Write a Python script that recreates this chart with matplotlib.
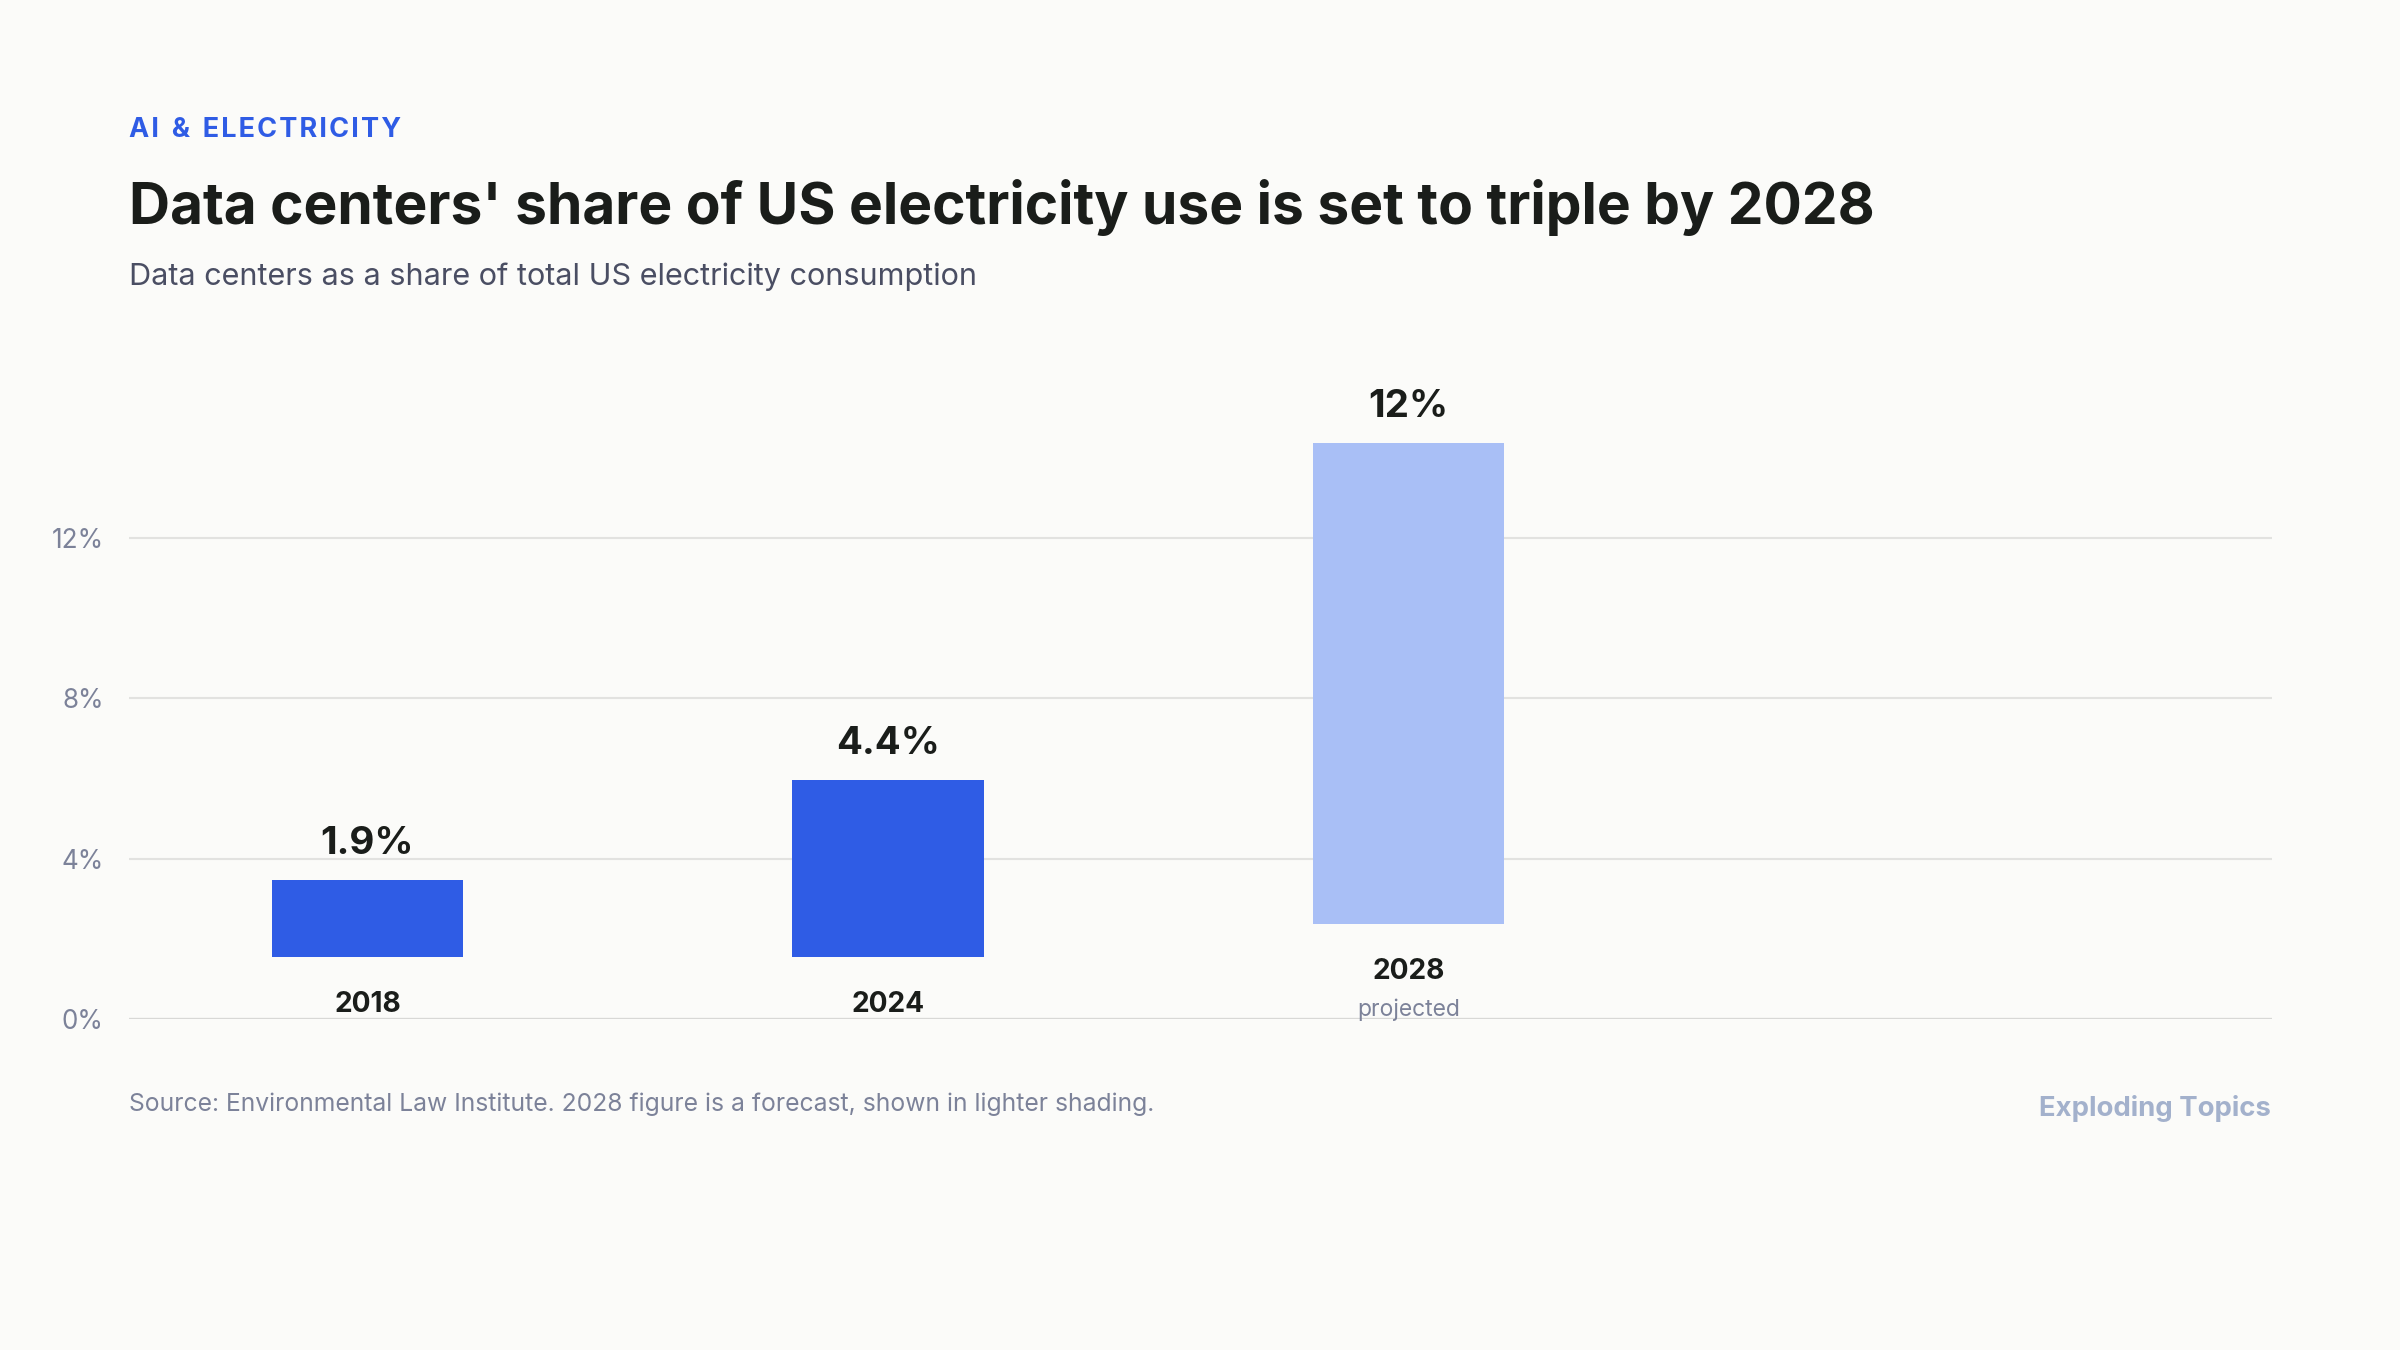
import matplotlib.pyplot as plt

years = ['2018', '2024', '2028']
shares = [1.9, 4.4, 12.0]
value_labels = ['1.9%', '4.4%', '12%']
projected = [False, False, True]
yticks = [0, 4, 8, 12]

plt.rcParams['font.family'] = ['Inter', 'DejaVu Sans']
bg = '#FBFBF9'
fig = plt.figure(figsize=(16, 9), dpi=150, facecolor=bg)
ax = fig.add_axes([0.0536, 0.245, 0.8929, 0.4456], facecolor=bg)

bottoms = [1.56, 1.56, 2.37]
for i, (y, v) in enumerate(zip(years, shares)):
    c = '#A9BFF6' if projected[i] else '#2F5CE5'
    ax.bar(i, v, width=0.368, bottom=bottoms[i], color=c, zorder=3)
    ax.text(i, bottoms[i] + v + 0.45, value_labels[i], ha='center', va='bottom',
            fontsize=18.5, fontweight='bold', color='#1A1D1A')
    ax.text(i, bottoms[i] - 0.85, y, ha='center', va='top', fontsize=13.5,
            fontweight='bold', color='#1A1D1A')
    if projected[i]:
        ax.text(i, bottoms[i] - 1.85, 'projected', ha='center', va='top',
                fontsize=11, color='#7C8299')

ax.set_xlim(-0.459, 3.659)
ax.set_ylim(0, 15)
ax.set_yticks(yticks)
ax.set_yticklabels([f'{t}%' for t in yticks])
ax.tick_params(axis='y', length=0, labelsize=12.5, labelcolor='#7C8299', pad=12)
ax.tick_params(axis='x', bottom=False, labelbottom=False)
for t in yticks:
    ax.axhline(t, color='#E2E2E0' if t else '#D8D8D6', lw=1 if t else 1.6, zorder=1)
for s in ax.spines.values():
    s.set_visible(False)

fig.text(0.0536, 0.904, 'A I  &  E L E C T R I C I T Y'.replace('  ', '\u2003').replace(' ', '\u200a').replace('\u2003', '  '),
         fontsize=13, fontweight='bold', color='#2F5CE5', va='center')
fig.text(0.0536, 0.846, "Data centers' share of US electricity use is set to triple by 2028",
         fontsize=27.3, fontweight='bold', color='#1A1D1A', va='center')
fig.text(0.0536, 0.795, 'Data centers as a share of total US electricity consumption',
         fontsize=14.7, color='#4A4E63', va='center')
fig.text(0.0536, 0.182, 'Source: Environmental Law Institute. 2028 figure is a forecast, shown in lighter shading.',
         fontsize=11.85, color='#7C8299', va='center')
fig.text(0.9464, 0.179, 'Exploding Topics', fontsize=13.2, fontweight='bold',
         color='#A3B1CC', va='center', ha='right')

fig.savefig('out.png', facecolor=bg)
